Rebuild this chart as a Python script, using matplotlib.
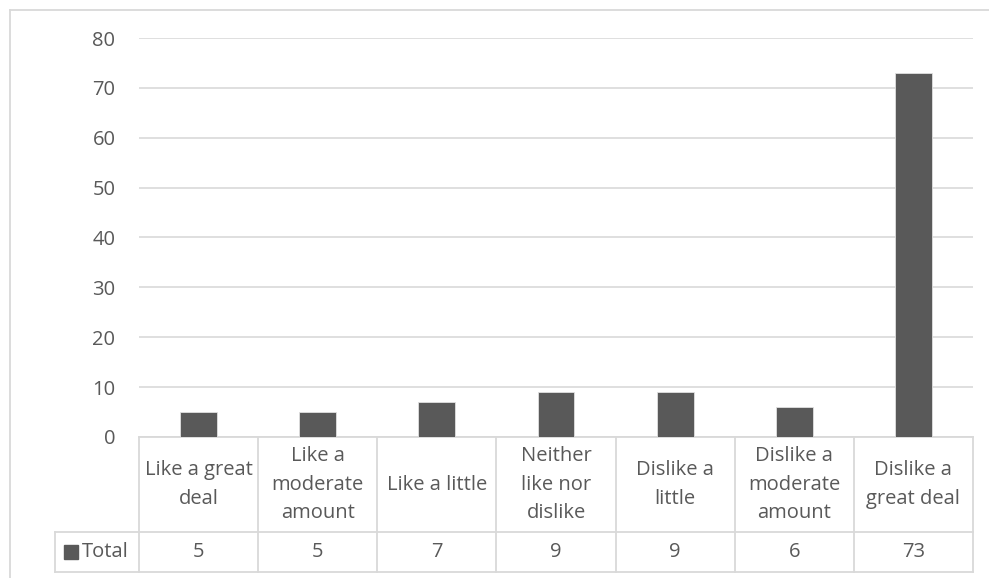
import matplotlib.pyplot as plt
from matplotlib.patches import Rectangle

categories = ["Like a great\ndeal", "Like a\nmoderate\namount", "Like a little",
              "Neither\nlike nor\ndislike", "Dislike a\nlittle",
              "Dislike a\nmoderate\namount", "Dislike a\ngreat deal"]
totals = [5, 5, 7, 9, 9, 6, 73]
series_name = "Total"
yticks = [0, 10, 20, 30, 40, 50, 60, 70, 80]

W, H = 989, 578
text_c = "#595959"
line_c = "#d9d9d9"
bar_c = "#595959"
fs = 14.5
plt.rcParams['font.family'] = ['Open Sans', 'DejaVu Sans']

fig = plt.figure(figsize=(W / 100, H / 100), dpi=100)

# chart area frame (only left and top edges fall inside the image)
fig.add_artist(plt.Line2D([9.5 / W, 9.5 / W], [0, 1 - 9.5 / H], color=line_c, lw=1.3))
fig.add_artist(plt.Line2D([9.5 / W, 1], [1 - 9.5 / H, 1 - 9.5 / H], color=line_c, lw=1.3))

left, right, top, bottom = 139, 973, 38, 437
ax = fig.add_axes([left / W, 1 - bottom / H, (right - left) / W, (bottom - top) / H])

x = list(range(len(totals)))
ax.bar(x, totals, width=0.31, color=bar_c, edgecolor="#e0e0e0", linewidth=0.6, zorder=3)
ax.set_xlim(-0.5, len(totals) - 0.5)
ax.set_ylim(0, 80)
ax.set_yticks(yticks)
ax.set_yticklabels([str(t) for t in yticks], fontsize=fs, color=text_c)
ax.tick_params(axis="y", length=0, pad=17)
ax.set_xticks([])
ax.grid(axis="y", color=line_c, lw=1.2, zorder=0)
for s in ax.spines.values():
    s.set_visible(False)

# data table under the plot
tr = ax.get_xaxis_transform()
ph = bottom - top
r1 = -(532 - bottom) / ph
r2 = -(572 - bottom) / ph
hdr = -0.5 - (139 - 55) / (right - left) * len(totals)
lk = dict(color=line_c, lw=1.3, transform=tr, clip_on=False)
ax.plot([-0.5, 6.5], [0, 0], **lk)
ax.plot([hdr, 6.5], [r1, r1], **lk)
ax.plot([hdr, 6.5], [r2, r2], **lk)
ax.plot([hdr, hdr], [r1, r2], **lk)
for b in range(len(totals) + 1):
    ax.plot([b - 0.5, b - 0.5], [0, r2], **lk)

for i, (cat, v) in enumerate(zip(categories, totals)):
    ax.text(i, r1 / 2, cat, transform=tr, ha="center", va="center",
            fontsize=fs, color=text_c, linespacing=1.55)
    ax.text(i, (r1 + r2) / 2, str(v), transform=tr, ha="center", va="center",
            fontsize=fs, color=text_c)

# legend key + series name in the header cell
px = len(totals) / (right - left)
key_w = 14 * px
key_h = 14 / ph
ax.add_patch(Rectangle((hdr + 9 * px, (r1 + r2) / 2 - key_h / 2), key_w, key_h,
                       transform=tr, color=bar_c, clip_on=False))
ax.text(hdr + 27 * px, (r1 + r2) / 2, series_name, transform=tr,
        ha="left", va="center", fontsize=fs, color=text_c)

fig.savefig("out.png", dpi=100)
